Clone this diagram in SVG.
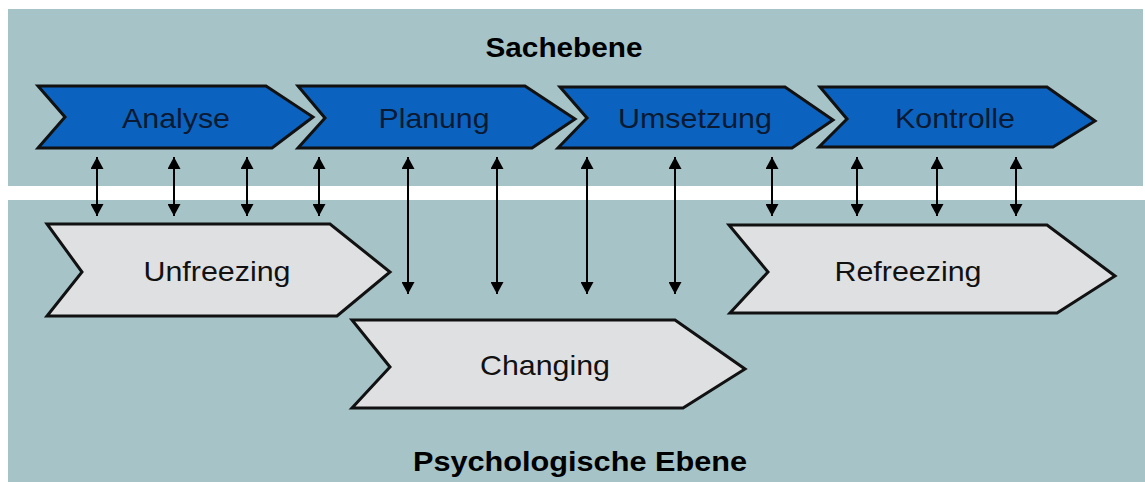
<svg xmlns="http://www.w3.org/2000/svg" width="1145" height="482" viewBox="0 0 1145 482">
<defs>
<style>
.panel{fill:#a6c3c8}
.blue{fill:#0c63bf;stroke:#111;stroke-width:3;stroke-linejoin:miter}
.grey{fill:#dfe0e2;stroke:#111;stroke-width:3;stroke-linejoin:miter}
.lbl{font-family:"Liberation Sans",Arial,sans-serif;font-size:28px;fill:#111;text-anchor:middle}
.blbl{fill:#0a1a33}
.lblb{font-family:"Liberation Sans",Arial,sans-serif;font-size:28px;font-weight:bold;fill:#000;text-anchor:middle}
.conn{stroke:#000;stroke-width:2;fill:none;marker-start:url(#ah);marker-end:url(#ah)}
</style>
<marker id="ah" viewBox="0 0 12 13" refX="12" refY="6.5" markerWidth="12" markerHeight="13" markerUnits="userSpaceOnUse" orient="auto-start-reverse">
<path d="M0,0 L12,6.5 L0,13 Z" fill="#000"/>
</marker>
</defs>
<rect width="1145" height="482" fill="#fff"/>
<g id="panels">
<rect class="panel" x="8" y="9" width="1135" height="177"/>
<rect class="panel" x="8" y="200" width="1137" height="282"/>
</g>
<g id="sachebene"><text class="lblb" x="564" y="57" textLength="157" lengthAdjust="spacingAndGlyphs">Sachebene</text></g>
<g id="psychologische-ebene"><text class="lblb" x="580" y="471" textLength="334" lengthAdjust="spacingAndGlyphs">Psychologische Ebene</text></g>
<g id="analyse">
<polygon class="blue" points="38,86 266,86 313,117 272,148 38,148 65,117"/>
<text class="lbl blbl" x="176" y="128" textLength="108" lengthAdjust="spacingAndGlyphs">Analyse</text>
</g>
<g id="planung">
<polygon class="blue" points="298,86 525,86 575,119 532,148 298,148 325,118"/>
<text class="lbl blbl" x="434" y="128" textLength="111" lengthAdjust="spacingAndGlyphs">Planung</text>
</g>
<g id="umsetzung">
<polygon class="blue" points="560,87 785,87 833,120 792,148 558,148 587,118"/>
<text class="lbl blbl" x="695" y="128" textLength="154" lengthAdjust="spacingAndGlyphs">Umsetzung</text>
</g>
<g id="kontrolle">
<polygon class="blue" points="820,87 1047,87 1095,121 1053,147 819,147 847,119"/>
<text class="lbl blbl" x="955" y="128" textLength="120" lengthAdjust="spacingAndGlyphs">Kontrolle</text>
</g>
<g id="unfreezing">
<polygon class="grey" points="47,224 330,224 390,272 337,316 47,316 82,272"/>
<text class="lbl" x="217" y="281" textLength="147" lengthAdjust="spacingAndGlyphs">Unfreezing</text>
</g>
<g id="changing">
<polygon class="grey" points="352,320 675,320 745,369 683,408 352,408 390,367"/>
<text class="lbl" x="545" y="375" textLength="130" lengthAdjust="spacingAndGlyphs">Changing</text>
</g>
<g id="refreezing">
<polygon class="grey" points="729,225 1047,225 1115,276 1057,313 730,313 768,272"/>
<text class="lbl" x="908" y="281" textLength="147" lengthAdjust="spacingAndGlyphs">Refreezing</text>
</g>
<g id="connectors">
<line class="conn" x1="97" y1="157" x2="97" y2="216"/>
<line class="conn" x1="174" y1="157" x2="174" y2="216"/>
<line class="conn" x1="247" y1="157" x2="247" y2="216"/>
<line class="conn" x1="319" y1="157" x2="319" y2="216"/>
<line class="conn" x1="408" y1="157" x2="408" y2="294"/>
<line class="conn" x1="497" y1="157" x2="497" y2="294"/>
<line class="conn" x1="587" y1="157" x2="587" y2="294"/>
<line class="conn" x1="675" y1="157" x2="675" y2="294"/>
<line class="conn" x1="772" y1="157" x2="772" y2="216"/>
<line class="conn" x1="857" y1="157" x2="857" y2="216"/>
<line class="conn" x1="937" y1="157" x2="937" y2="216"/>
<line class="conn" x1="1016" y1="157" x2="1016" y2="216"/>
</g>
</svg>
